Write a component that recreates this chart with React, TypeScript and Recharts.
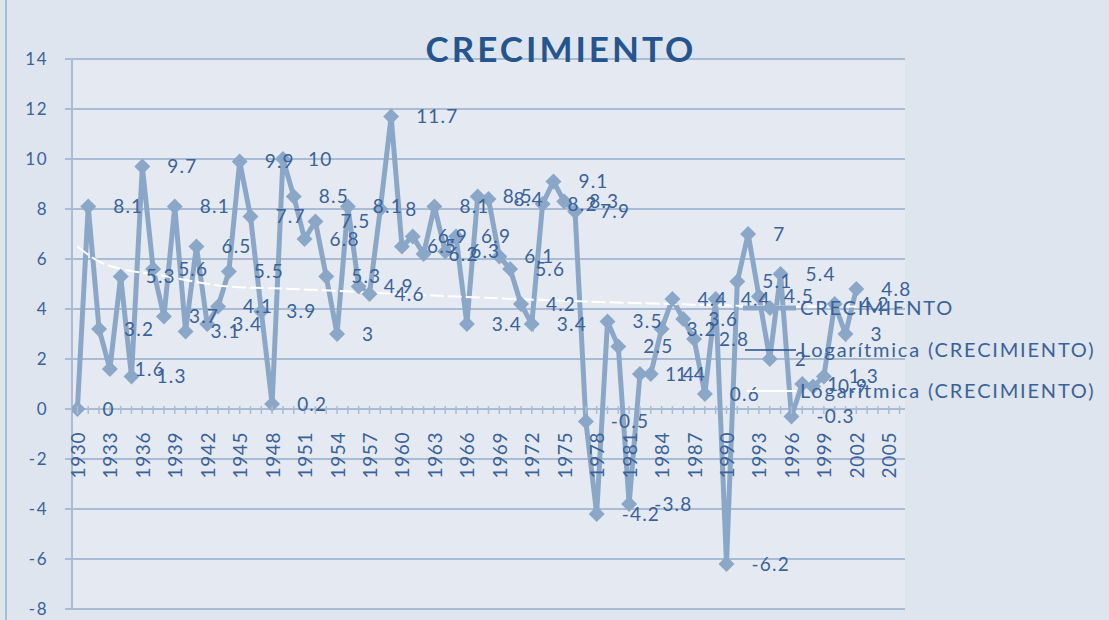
import { LineChart, Line, XAxis, YAxis, CartesianGrid, LabelList } from "recharts";

// categories: one per year, the axis runs a few years past the data
const YEARS = [
  1930, 1931, 1932, 1933, 1934, 1935, 1936, 1937, 1938, 1939,
  1940, 1941, 1942, 1943, 1944, 1945, 1946, 1947, 1948, 1949,
  1950, 1951, 1952, 1953, 1954, 1955, 1956, 1957, 1958, 1959,
  1960, 1961, 1962, 1963, 1964, 1965, 1966, 1967, 1968, 1969,
  1970, 1971, 1972, 1973, 1974, 1975, 1976, 1977, 1978, 1979,
  1980, 1981, 1982, 1983, 1984, 1985, 1986, 1987, 1988, 1989,
  1990, 1991, 1992, 1993, 1994, 1995, 1996, 1997, 1998, 1999,
  2000, 2001, 2002, 2003, 2004, 2005, 2006,
];

const CRECIMIENTO = [
  0, 8.1, 3.2, 1.6, 5.3, 1.3, 9.7, 5.6, 3.7, 8.1,
  3.1, 6.5, 3.4, 4.1, 5.5, 9.9, 7.7, 3.9, 0.2, 10,
  8.5, 6.8, 7.5, 5.3, 3, 8.1, 4.9, 4.6, 8, 11.7,
  6.5, 6.9, 6.2, 8.1, 6.3, 6.9, 3.4, 8.5, 8.4, 6.1,
  5.6, 4.2, 3.4, 8.2, 9.1, 8.3, 7.9, -0.5, -4.2, 3.5,
  2.5, -3.8, 1.4, 1.4, 3.2, 4.4, 3.6, 2.8, 0.6, 4.4,
  -6.2, 5.1, 7, 4.5, 2, 5.4, -0.3, 1, 0.9, 1.3,
  4.2, 3, 4.8,
];

// logarithmic trend
const TREND_YEARS = [1930, 1932, 1934, 1937, 1944, 1950, 1965, 1977, 1985, 1996, 2002];
const TREND_VALUES = [6.5, 5.9, 5.6, 5.4, 4.9, 4.8, 4.5, 4.3, 4.2, 4.1, 4.1];

const Y_TICKS = [-8, -6, -4, -2, 0, 2, 4, 6, 8, 10, 12, 14];
const Y_MIN = -8;
const Y_MAX = 14;

const data = YEARS.map((year, i) => {
  const t = TREND_YEARS.indexOf(year);
  return {
    year,
    crecimiento: i < CRECIMIENTO.length ? CRECIMIENTO[i] : null,
    trend: t >= 0 ? TREND_VALUES[t] : null,
  };
});

const W = 1109;
const H = 620;
const PLOT_TOP = 59;
const PLOT_BOTTOM = 609;
const ZERO_Y = PLOT_TOP + ((PLOT_BOTTOM - PLOT_TOP) * Y_MAX) / (Y_MAX - Y_MIN);

const LINE = "#8ba7c8";
const GRID = "#a9bcd4";
const TEXT = "#3a6299";
const FONT = "Lato, 'Open Sans', sans-serif";

function Diamond(props: any) {
  const { cx, cy, value } = props;
  if (value == null || cx == null || cy == null) return <g />;
  return (
    <polygon
      points={`${cx},${cy - 8} ${cx + 8},${cy} ${cx},${cy + 8} ${cx - 8},${cy}`}
      fill={LINE}
    />
  );
}

function PointLabel(props: any) {
  const { x, y, value } = props;
  if (value == null || x == null || y == null) return null;
  return (
    <text
      x={x + 25}
      y={y}
      dy="0.36em"
      fill={TEXT}
      fontSize={19}
      fontFamily={FONT}
      letterSpacing={1.2}
    >
      {value}
    </text>
  );
}

function YearTick(props: any) {
  const { x, payload } = props;
  const yr = payload.value as number;
  return (
    <g>
      <line x1={x} x2={x} y1={ZERO_Y - 3} y2={ZERO_Y + 5} stroke={GRID} strokeWidth={1.5} />
      {(yr - 1930) % 3 === 0 && (
        <text
          transform={`translate(${x},${ZERO_Y + 23}) rotate(-90)`}
          textAnchor="end"
          dominantBaseline="central"
          fill={TEXT}
          fontSize={19}
          fontFamily={FONT}
          letterSpacing={0.6}
        >
          {yr}
        </text>
      )}
    </g>
  );
}

function Legend() {
  const rows = [
    { label: "CRECIMIENTO", y: 308 },
    { label: "Logarítmica (CRECIMIENTO)", y: 350 },
    { label: "Logarítmica (CRECIMIENTO)", y: 391 },
  ];
  return (
    <g fontFamily={FONT} fontSize={20} fill={TEXT} letterSpacing={1.8}>
      <line x1={743} x2={796} y1={rows[0].y} y2={rows[0].y} stroke={LINE} strokeWidth={5} />
      <polygon points="770,300 778,308 770,316 762,308" fill={LINE} />
      <line x1={745} x2={796} y1={rows[1].y} y2={rows[1].y} stroke="#1f4e8c" strokeWidth={1.5} />
      <line x1={747} x2={796} y1={rows[2].y} y2={rows[2].y} stroke="#ffffff" strokeWidth={2} />
      {rows.map((r, i) => (
        <text key={i} x={800} y={r.y} dy="0.36em">
          {r.label}
        </text>
      ))}
    </g>
  );
}

export default function App() {
  return (
    <div
      style={{
        position: "absolute",
        left: 0,
        top: 0,
        width: W,
        height: H,
        background: "#dee5ee",
        overflow: "hidden",
      }}
    >
      <LineChart
        width={W}
        height={H}
        data={data}
        margin={{ top: PLOT_TOP, right: W - 905, bottom: H - PLOT_BOTTOM - 1, left: 0 }}
      >
        <CartesianGrid vertical={false} stroke={GRID} strokeWidth={2} fill="#e5eaf2" />
        <XAxis
          dataKey="year"
          type="number"
          domain={[1929.5, 2006.5]}
          ticks={YEARS}
          interval={0}
          height={1}
          axisLine={false}
          tickLine={false}
          tick={<YearTick />}
          allowDataOverflow
        />
        <YAxis
          domain={[Y_MIN, Y_MAX]}
          ticks={Y_TICKS}
          interval={0}
          width={72}
          axisLine={{ stroke: GRID, strokeWidth: 2 }}
          tickLine={{ stroke: GRID, strokeWidth: 2 }}
          tickSize={7}
          tickMargin={17}
          tick={{ fill: TEXT, fontSize: 17, fontFamily: FONT, letterSpacing: 1.5 }}
        />
        <Line
          dataKey="crecimiento"
          stroke={LINE}
          strokeWidth={5}
          dot={<Diamond />}
          activeDot={false}
          isAnimationActive={false}
        >
          <LabelList dataKey="crecimiento" content={<PointLabel />} />
        </Line>
        <Line
          dataKey="trend"
          type="monotone"
          connectNulls
          stroke="#ffffff"
          strokeWidth={2}
          strokeDasharray="14 4"
          dot={false}
          activeDot={false}
          isAnimationActive={false}
        />
      </LineChart>
      <svg
        width={W}
        height={H}
        style={{ position: "absolute", left: 0, top: 0, pointerEvents: "none" }}
      >
        <line x1={6} x2={6} y1={0} y2={H} stroke="#a7bdd7" strokeWidth={2} />
        <text
          x={561}
          y={62}
          textAnchor="middle"
          fill="#24558f"
          fontFamily={FONT}
          fontWeight={700}
          fontSize={35}
          letterSpacing={3}
        >
          CRECIMIENTO
        </text>
        <Legend />
      </svg>
    </div>
  );
}
